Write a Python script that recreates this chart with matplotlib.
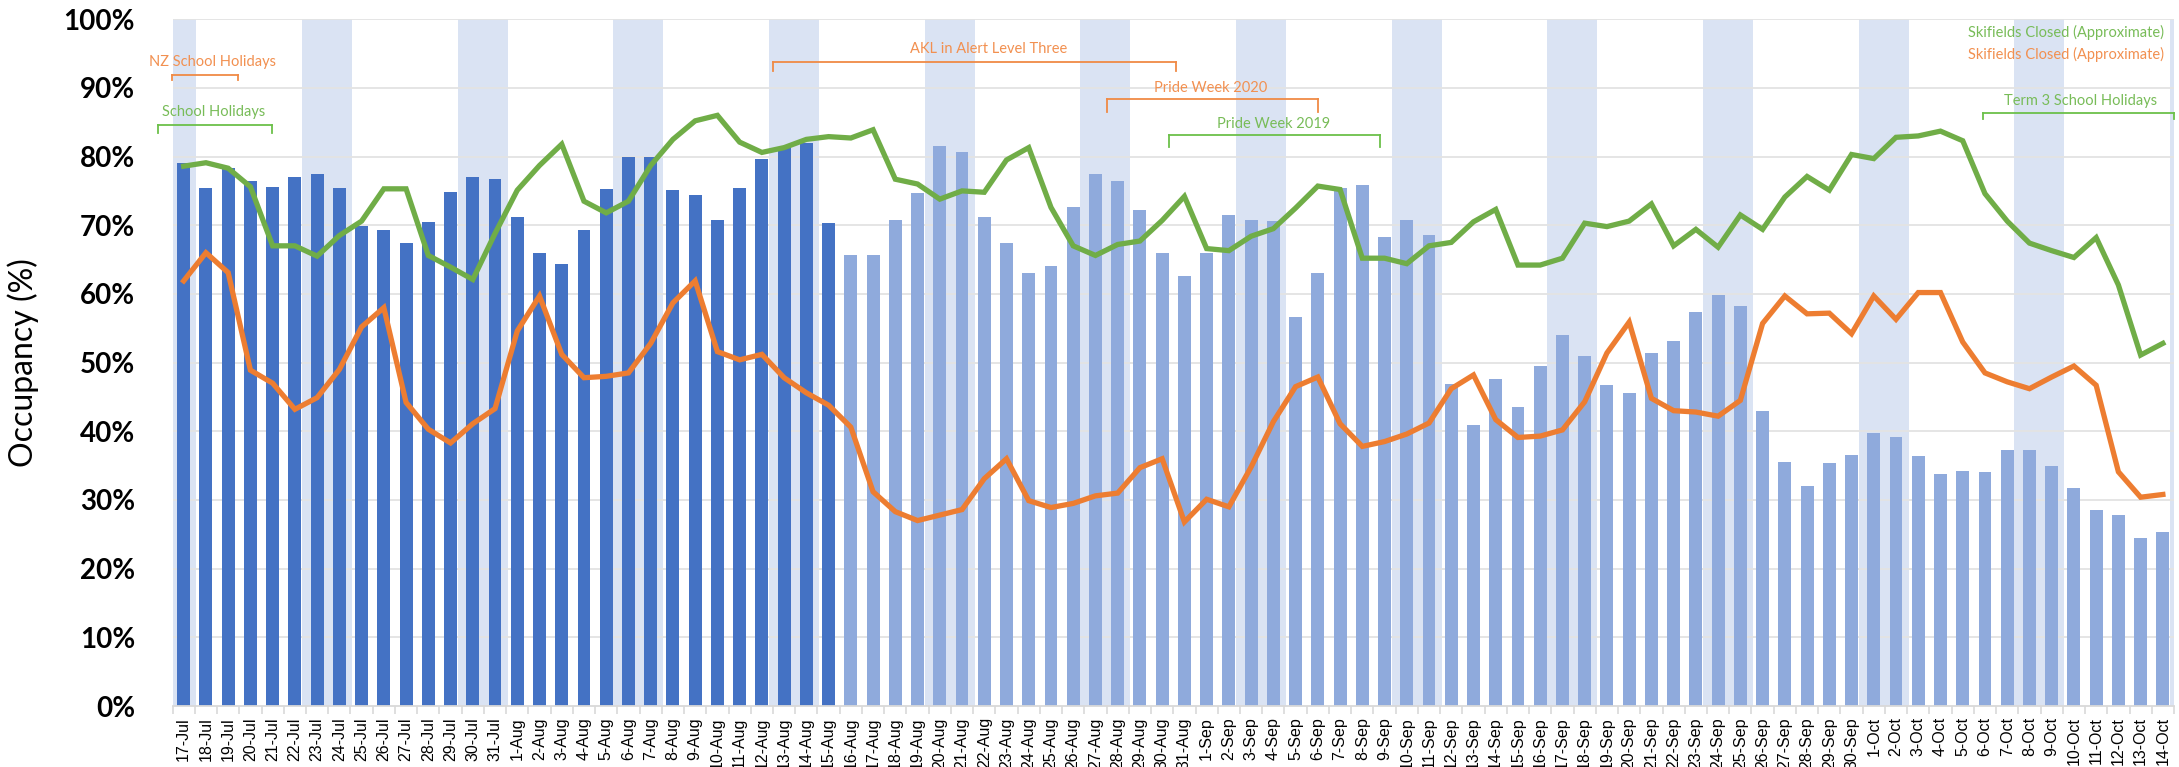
import matplotlib
matplotlib.use("Agg")
import matplotlib.pyplot as plt
import numpy as np

# ---------------- data ----------------
dates = (["%d-Jul" % d for d in range(17, 32)] +
         ["%d-Aug" % d for d in range(1, 32)] +
         ["%d-Sep" % d for d in range(1, 31)] +
         ["%d-Oct" % d for d in range(1, 15)])

occupancy_actual = [79.1, 75.4, 78.3, 76.5, 75.5, 77.0, 77.5, 75.4, 69.9, 69.3,
                    67.4, 70.5, 74.8, 77.0, 76.8, 71.2, 66.0, 64.4, 69.3, 75.3,
                    80.0, 80.0, 75.1, 74.4, 70.8, 75.4, 79.7, 81.4, 82.0, 70.3]

occupancy_forward = [65.7, 65.7, 70.8, 74.7, 81.6, 80.7, 71.2, 67.4, 63.1, 64.0,
                     72.6, 77.4, 76.5, 72.2, 65.9, 62.6, 65.9, 71.5, 70.8, 70.6,
                     56.7, 63.1, 75.4, 75.9, 68.3, 70.7, 68.6, 46.9, 40.9, 47.6,
                     43.5, 49.5, 54.0, 50.9, 46.8, 45.6, 51.4, 53.1, 57.3, 59.8,
                     58.2, 42.9, 35.5, 32.0, 35.4, 36.6, 39.7, 39.1, 36.4, 33.8,
                     34.2, 34.1, 37.3, 37.3, 35.0, 31.8, 28.6, 27.8, 24.5, 25.3]

occupancy_2019 = [78.6, 79.1, 78.3, 75.6, 67.0, 67.0, 65.5, 68.5, 70.6, 75.3,
                  75.3, 65.6, 63.9, 62.1, 68.8, 75.1, 78.7, 81.8, 73.5, 71.8,
                  73.5, 78.7, 82.5, 85.2, 86.0, 82.1, 80.6, 81.3, 82.5, 82.9,
                  82.7, 83.9, 76.7, 76.0, 73.8, 75.0, 74.8, 79.5, 81.3, 72.6,
                  67.0, 65.6, 67.2, 67.7, 70.7, 74.2, 66.6, 66.3, 68.4, 69.5,
                  72.5, 75.7, 75.2, 65.2, 65.2, 64.4, 67.0, 67.5, 70.5, 72.3,
                  64.2, 64.2, 65.2, 70.3, 69.8, 70.6, 73.1, 67.0, 69.4, 66.8,
                  71.5, 69.4, 74.1, 77.1, 75.1, 80.3, 79.7, 82.8, 83.0, 83.7,
                  82.3, 74.6, 70.6, 67.4, 66.3, 65.3, 68.2, 61.3, 51.1, 52.8]

occupancy_2020 = [61.9, 66.0, 63.1, 48.9, 47.0, 43.2, 44.9, 49.0, 55.2, 58.0,
                  44.2, 40.3, 38.3, 41.1, 43.3, 54.6, 59.7, 51.2, 47.8, 48.0,
                  48.5, 52.8, 58.7, 61.9, 51.6, 50.4, 51.2, 47.8, 45.6, 43.8,
                  40.6, 31.2, 28.3, 27.0, 27.8, 28.6, 33.1, 36.0, 29.9, 28.9,
                  29.5, 30.6, 31.0, 34.7, 36.0, 26.8, 30.1, 29.0, 34.8, 41.4,
                  46.5, 47.9, 41.1, 37.8, 38.5, 39.6, 41.2, 46.2, 48.2, 41.7,
                  39.1, 39.3, 40.2, 44.3, 51.4, 55.9, 44.8, 43.0, 42.8, 42.2,
                  44.5, 55.7, 59.7, 57.1, 57.2, 54.2, 59.7, 56.3, 60.2, 60.2,
                  53.0, 48.5, 47.2, 46.2, 47.9, 49.5, 46.7, 34.1, 30.4, 30.8]

y_ticks = [0, 10, 20, 30, 40, 50, 60, 70, 80, 90, 100]
y_tick_labels = ["%d%%" % v for v in y_ticks]

# ---------------- colours ----------------
C_DARK = "#4472C4"
C_LIGHT = "#8FAADC"
C_BAND = "#DAE3F3"
C_GREEN = "#70AD47"
C_ORANGE = "#ED7D31"
C_GREEN_TXT = "#78BC58"
C_ORANGE_TXT = "#F29050"
C_GREEN_BR = "#6CC04A"
C_ORANGE_BR = "#F08A45"

plt.rcParams['font.family'] = ['Lato', 'DejaVu Sans']

fig = plt.figure(figsize=(21.79, 7.67), dpi=100)
ax = fig.add_axes([0.0792, 0.0795, 0.9185, 0.8955])

n = len(dates)
x = np.arange(n)
n_act = len(occupancy_actual)

# weekly shaded bands (background)
band_width = 2.25
band_first_centre = -0.55
for k in range(14):
    c = band_first_centre + 7 * k
    ax.axvspan(c - band_width / 2, c + band_width / 2, ymin=0, ymax=1,
               color=C_BAND, lw=0, zorder=0)

# gridlines
for v in y_ticks[1:]:
    ax.axhline(v, color="#E3E3E3", lw=1.3, zorder=0.5)

# bars
ax.bar(x[:n_act], occupancy_actual, width=0.58, color=C_DARK, zorder=2)
ax.bar(x[n_act:], occupancy_forward, width=0.58, color=C_LIGHT, zorder=2)

# lines
ax.plot(x, occupancy_2019, color=C_GREEN, lw=3.8, zorder=4, solid_joinstyle="miter")
ax.plot(x, occupancy_2020, color=C_ORANGE, lw=3.8, zorder=4, solid_joinstyle="miter")

ax.set_xlim(-0.5, n - 0.5)
ax.set_ylim(0, 100)

# axes styling
for s in ["top", "right", "left"]:
    ax.spines[s].set_visible(False)
ax.spines["bottom"].set_color("#D9D9D9")
ax.spines["bottom"].set_linewidth(1.3)

ax.set_yticks(y_ticks)
ax.set_yticklabels(y_tick_labels, fontsize=20, fontweight="bold", color="black")
ax.tick_params(axis="y", length=0, pad=27)

ax.set_xticks(x)
ax.set_xticklabels(dates, rotation=90, fontsize=11.5,
                   family=["Liberation Sans", "DejaVu Sans"], color="black")
ax.tick_params(axis="x", which="major", length=0, pad=8)
ax.set_xticks(np.arange(-0.5, n, 1.0), minor=True)
ax.tick_params(axis="x", which="minor", length=6, color="#D9D9D9", width=1.2)

ax.set_ylabel("Occupancy (%)", fontsize=23, labelpad=18)

# ---------------- annotations ----------------
def bracket(x0, x1, y, y_tick, color, left=True, right=True):
    ax.plot([x0, x1], [y, y], color=color, lw=1.3, zorder=6, clip_on=False)
    if left:
        ax.plot([x0, x0], [y, y_tick], color=color, lw=1.3, zorder=6, clip_on=False)
    if right:
        ax.plot([x1, x1], [y, y_tick], color=color, lw=1.3, zorder=6, clip_on=False)

fs_ann = 10.5
ax.text(1.3, 93.7, "NZ School Holidays", color=C_ORANGE_TXT, fontsize=fs_ann,
        ha="center", va="center", zorder=7)
bracket(-0.54, 2.43, 91.8, 91.1, C_ORANGE_BR)

ax.text(1.35, 86.5, "School Holidays", color=C_GREEN_TXT, fontsize=fs_ann,
        ha="center", va="center", zorder=7)
bracket(-1.17, 3.98, 84.6, 83.4, C_GREEN_BR)

ax.text(36.2, 95.6, "AKL in Alert Level Three", color=C_ORANGE_TXT, fontsize=fs_ann,
        ha="center", va="center", zorder=7)
bracket(26.5, 44.6, 93.7, 92.4, C_ORANGE_BR)

ax.text(46.2, 90.0, "Pride Week 2020", color=C_ORANGE_TXT, fontsize=fs_ann,
        ha="center", va="center", zorder=7)
bracket(41.5, 51.0, 88.4, 86.5, C_ORANGE_BR)

ax.text(49.0, 84.7, "Pride Week 2019", color=C_GREEN_TXT, fontsize=fs_ann,
        ha="center", va="center", zorder=7)
bracket(44.3, 53.8, 83.1, 81.4, C_GREEN_BR)

ax.text(89.07, 98.0, "Skifields Closed (Approximate)", color=C_GREEN_TXT,
        fontsize=fs_ann, ha="right", va="center", zorder=7)
ax.text(89.07, 94.9, "Skifields Closed (Approximate)", color=C_ORANGE_TXT,
        fontsize=fs_ann, ha="right", va="center", zorder=7)

ax.text(85.3, 88.1, "Term 3 School Holidays", color=C_GREEN_TXT, fontsize=fs_ann,
        ha="center", va="center", zorder=7)
bracket(80.9, 89.5, 86.3, 85.4, C_GREEN_BR)

fig.savefig("out.png", dpi=100)
